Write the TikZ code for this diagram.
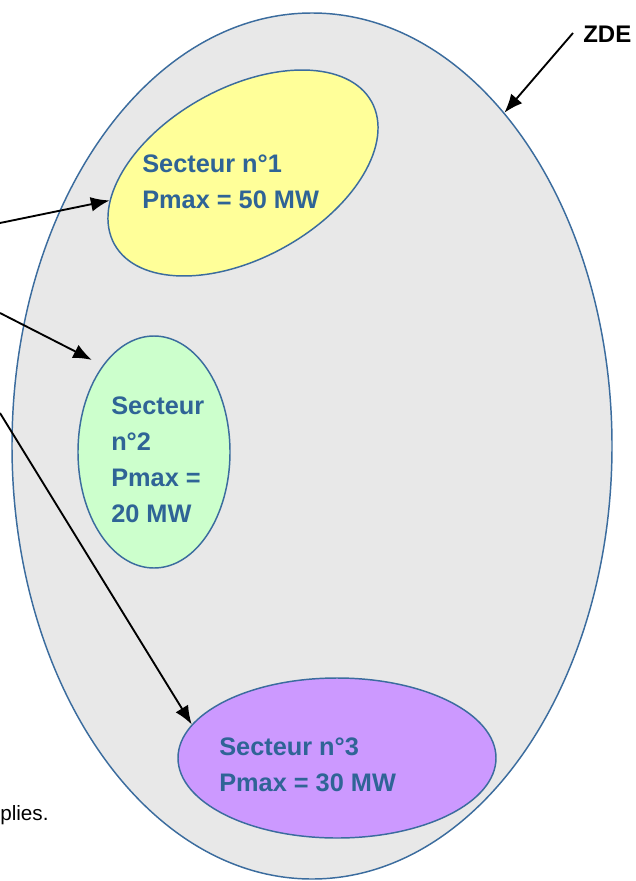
\documentclass[tikz,border=0pt]{standalone}
\usepackage{fontspec}
\setmainfont{Liberation Sans}
\usetikzlibrary{shapes.geometric,arrows.meta,calc}
\definecolor{zdefill}{HTML}{E8E8E8}
\definecolor{zdeline}{HTML}{3B6C9E}
\definecolor{sectext}{HTML}{2F6496}
\definecolor{secyellow}{HTML}{FFFF99}
\definecolor{secgreen}{HTML}{CCFFCC}
\definecolor{secpurple}{HTML}{CC99FF}

\begin{document}
\begin{tikzpicture}[x=0.75pt,y=-0.75pt,
    zone/.style={ellipse, draw=zdeline, line width=1.1pt, inner sep=0pt},
    seclabel/.style={anchor=base west, inner sep=0pt, align=left, text=sectext,
                     font=\fontsize{19}{27}\selectfont\bfseries},
    pointer/.style={-{Latex[length=14pt,width=11pt]}, line width=1.4pt}]
      \useasboundingbox (0,0) rectangle (635,881);
      % zone and sectors
      \node[zone, fill=zdefill, minimum width=450pt, minimum height=649.5pt] (zde) at (312,446) {};
      \node[zone, fill=secyellow, minimum width=220.5pt, minimum height=127.5pt, rotate=29] (s1) at (243,173) {};
      \node[zone, fill=secgreen, minimum width=114pt, minimum height=174pt] (s2) at (154,452) {};
      \node[zone, fill=secpurple, minimum width=238.5pt, minimum height=120pt] (s3) at (337,758) {};
      % base anchor sits on the last line
      \node[seclabel] (t1) at (142,208) {Secteur n°1\\Pmax = 50 MW};
      \node[seclabel] (t2) at (111,522) {Secteur\\n°2\\Pmax =\\20 MW};
      \node[seclabel] (t3) at (219,791) {Secteur n°3\\Pmax = 30 MW};
      \node[anchor=base west, inner sep=0pt, font=\fontsize{18}{20}\selectfont\bfseries] (zdelbl) at (583,43) {ZDE};
      \node[anchor=west, inner sep=0pt, font=\fontsize{15.5}{18}\selectfont] (plies) at (0,815) {plies.};
      % arrows
      \coordinate (zdetail) at (573,33);
      \coordinate (a1) at (0,223);
      \coordinate (a2) at (0,313);
      \coordinate (a3) at (0,413);
      \draw[pointer] (zdetail) -- (zde.60);
      \draw[pointer] (a1) -- (s1);
      \draw[pointer] (a2) -- ($(s2.center)!1.13!(s2.124)$);
      \draw[pointer] (a3) -- (s3.167);
\end{tikzpicture}
\end{document}
